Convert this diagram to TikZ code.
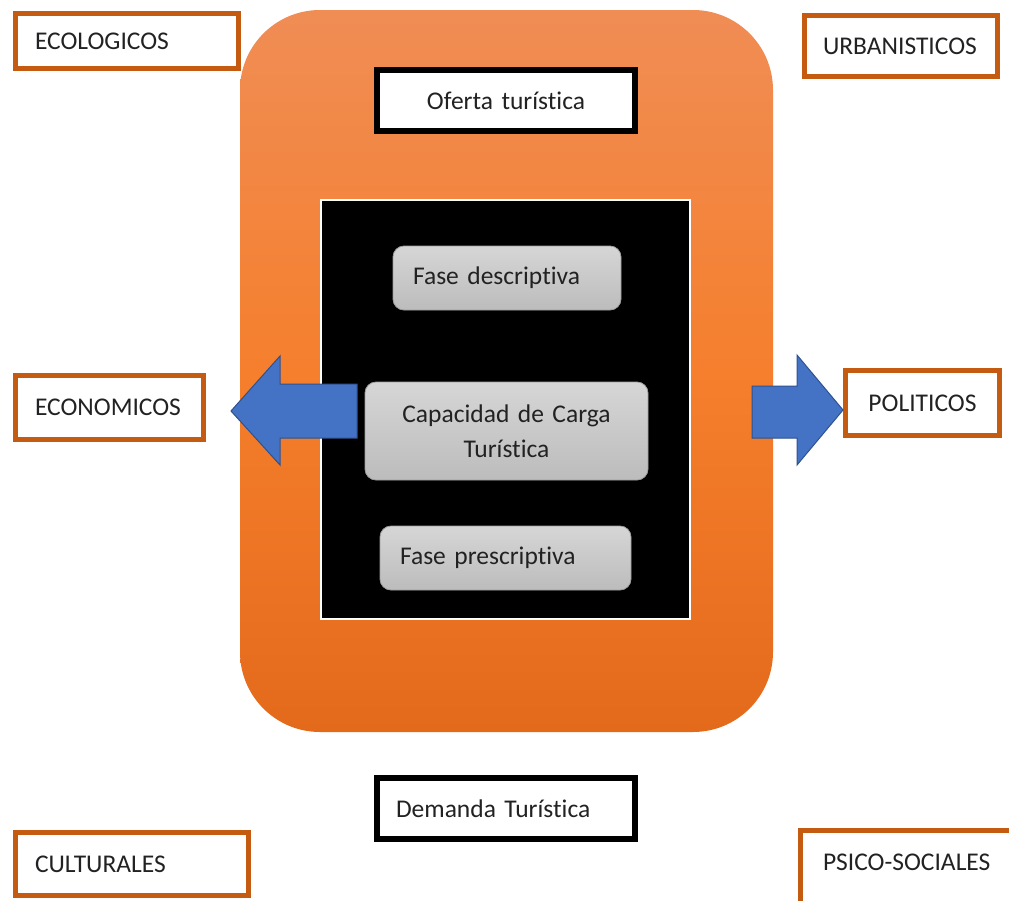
\documentclass[tikz,border=0pt]{standalone}
\usepackage{fontspec}
\setmainfont{Carlito}[RawFeature={-liga;-clig;-calt;-dlig}]
\usetikzlibrary{shapes.geometric}
\definecolor{obord}{HTML}{C55A11}
\definecolor{otop}{HTML}{F08D55}
\definecolor{omid}{HTML}{F57F2D}
\definecolor{obot}{HTML}{E46A1B}
\definecolor{gtop}{HTML}{D6D6D6}
\definecolor{gbot}{HTML}{BCBCBC}
\definecolor{gbord}{HTML}{9E9E9E}
\definecolor{ablue}{HTML}{4472C4}
\definecolor{ablued}{HTML}{2F528F}
\definecolor{txt}{HTML}{222222}
\begin{document}
\begin{tikzpicture}[x=1pt,y=-1pt,
  every node/.style={font=\fontsize{25.5}{31}\selectfont, text=txt},
  obox/.style={draw=obord, line width=5pt, fill=white, rectangle, inner ysep=0pt},
  bbox/.style={draw=black, line width=6pt, fill=white, rectangle, inner ysep=0pt},
  gbox/.style={draw=gbord, line width=0.8pt, rounded corners=11pt, top color=gtop, bottom color=gbot, rectangle, inner ysep=0pt},
  barrow/.style={fill=ablue, draw=ablued, line width=1pt, line join=miter}
]
\useasboundingbox (0,0) rectangle (1009,900);
\clip (0,0) rectangle (1009,900);
\fill[white] (0,0) rectangle (1009,900);

% big orange rounded panel
\shade[rounded corners=80pt, top color=otop, bottom color=obot, middle color=omid] (240,10) rectangle (773,732);

% black inner panel
\draw[draw=white, line width=2pt, fill=black] (321,200) rectangle (690,619);

% outer factor boxes
\node[obox, minimum width=223pt, minimum height=55pt, text width=184pt, align=left, inner xsep=19.5pt] (eco) at (127,41) {ECOLOGICOS};
\node[obox, minimum width=193pt, minimum height=61pt, text width=156pt, align=left, inner xsep=18.5pt] (urb) at (901,46) {URBANISTICOS};
\node[obox, minimum width=188pt, minimum height=64pt, text width=149pt, align=left, inner xsep=19.5pt] (econ) at (109.5,407.5) {ECONOMICOS};
\node[obox, minimum width=154pt, minimum height=65pt, text width=140pt, align=center, inner xsep=7pt] (pol) at (922.5,403) {POLITICOS};
\node[obox, minimum width=233pt, minimum height=63pt, text width=194pt, align=left, inner xsep=19.5pt] (cul) at (132,864) {CULTURALES};
\node[obox, minimum width=230pt, minimum height=84.5pt, text height=17pt, text depth=22pt, text width=185pt, align=left, inner xsep=22.5pt] (psi) at (915.5,872.75) {PSICO-SOCIALES};

% black-bordered boxes
\node[bbox, minimum width=258pt, minimum height=61pt, text width=240pt, align=center, inner xsep=9pt] (ofe) at (506,100.5) {Oferta turística};
\node[bbox, minimum width=258pt, minimum height=61pt, text width=220pt, align=left, inner xsep=19pt] (dem) at (506,808.5) {Demanda Turística};

% gray rounded boxes
\node[gbox, minimum width=228pt, minimum height=64pt, text width=188pt, align=left, inner xsep=20pt] (fdes) at (507,278) {Fase descriptiva};
\node[gbox, minimum width=283pt, minimum height=98pt, text width=263pt, align=center, inner xsep=10pt, font=\fontsize{25.5}{35}\selectfont] (cap) at (506.5,431) {Capacidad de Carga\\Turística};
\node[gbox, minimum width=251pt, minimum height=64pt, text width=211pt, align=left, inner xsep=20pt] (fpre) at (505.5,558) {Fase prescriptiva};

% block arrows
\draw[barrow] (357,384) -- (280,384) -- (280,356) -- (231,411) -- (280,465) -- (280,438) -- (357,438) -- cycle;
\draw[barrow] (752,386) -- (797,386) -- (797,355) -- (843,410) -- (797,465) -- (797,438) -- (752,438) -- cycle;
\end{tikzpicture}
\end{document}
